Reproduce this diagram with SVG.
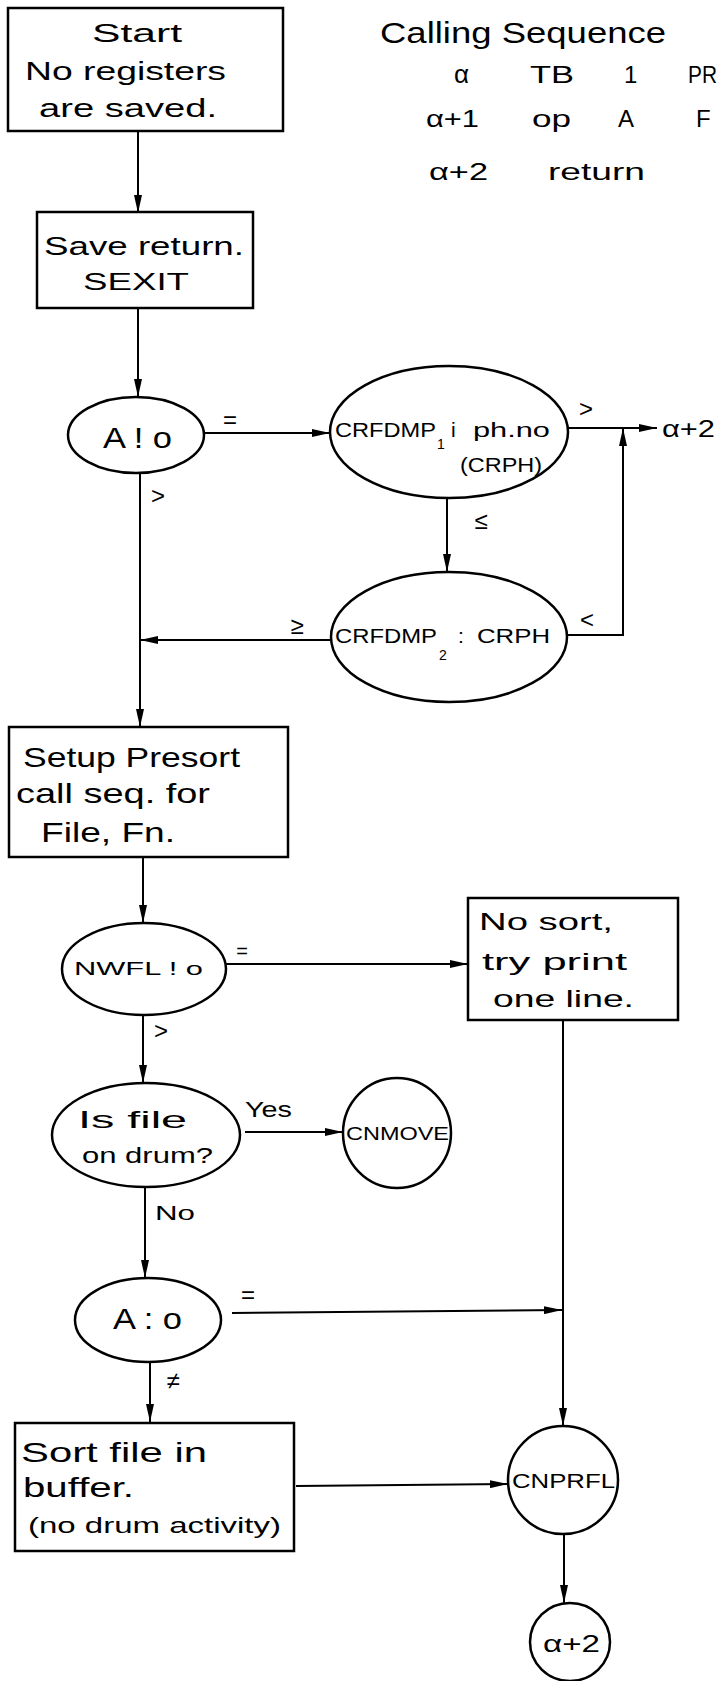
<svg xmlns="http://www.w3.org/2000/svg" width="719" height="1681" viewBox="0 0 719 1681">
<defs>
<marker id="ah" markerUnits="userSpaceOnUse" markerWidth="18" markerHeight="8" refX="18" refY="4" orient="auto">
<path d="M0,0 L18,4 L0,8 Z" fill="#000"/>
</marker>
<style>
.b{fill:none;stroke:#000;stroke-width:2.5}
.c{fill:none;stroke:#000;stroke-width:2;marker-end:url(#ah)}
text{font-family:"Liberation Sans",Arial,sans-serif;fill:#000}
.t26{font-size:26px}.t24{font-size:24px}.t22{font-size:22px}.t21{font-size:21px}.t19{font-size:19px}.t30{font-size:30px}.t28{font-size:28px}.t14{font-size:14px}
.l{font-size:24px;text-anchor:middle}
.s{font-size:20px;text-anchor:middle}
</style>
</defs>
<rect width="719" height="1681" fill="#fff"/>

<g id="calling-sequence">
<text class="t30" x="380" y="43" textLength="286" lengthAdjust="spacingAndGlyphs">Calling Sequence</text>
<text class="t26" x="454" y="83">α</text>
<text class="t24" x="530" y="83" textLength="44" lengthAdjust="spacingAndGlyphs">TB</text>
<text class="t24" x="624" y="83">1</text>
<text class="t24" x="688" y="83" textLength="29" lengthAdjust="spacingAndGlyphs">PR</text>
<text class="t24" x="426" y="127" textLength="53" lengthAdjust="spacingAndGlyphs">α+1</text>
<text class="t24" x="532" y="127" textLength="39" lengthAdjust="spacingAndGlyphs">op</text>
<text class="t24" x="618" y="127">A</text>
<text class="t24" x="696" y="127">F</text>
<text class="t24" x="429" y="180" textLength="59" lengthAdjust="spacingAndGlyphs">α+2</text>
<text class="t24" x="548" y="180" textLength="97" lengthAdjust="spacingAndGlyphs">return</text>
</g>

<g id="connectors">
<line class="c" x1="138" y1="132" x2="138" y2="213"/>
<line class="c" x1="138" y1="308" x2="138" y2="397"/>
<line class="c" x1="204" y1="433" x2="330" y2="433"/>
<line class="c" x1="568" y1="428" x2="657" y2="428"/>
<line class="c" x1="447" y1="498" x2="447" y2="572"/>
<polyline class="c" points="567,635 623,635 623,428"/>
<line class="c" x1="330" y1="640" x2="140" y2="640"/>
<line class="c" x1="140" y1="473" x2="140" y2="727"/>
<line class="c" x1="143" y1="858" x2="143" y2="923"/>
<line class="c" x1="226" y1="964" x2="468" y2="964"/>
<line class="c" x1="143" y1="1015" x2="143" y2="1083"/>
<line class="c" x1="245" y1="1132" x2="343" y2="1132"/>
<line class="c" x1="145" y1="1187" x2="145" y2="1278"/>
<line class="c" x1="232" y1="1313" x2="562" y2="1310"/>
<line class="c" x1="563" y1="1020" x2="563" y2="1426"/>
<line class="c" x1="150" y1="1362" x2="150" y2="1422"/>
<line class="c" x1="296" y1="1486" x2="508" y2="1484"/>
<line class="c" x1="564" y1="1535" x2="564" y2="1603"/>
<text class="l" x="230" y="428">=</text>
<text class="l" x="586" y="417">&gt;</text>
<text class="t24" x="662" y="437" textLength="53" lengthAdjust="spacingAndGlyphs">α+2</text>
<text class="l" x="481" y="529">≤</text>
<text class="l" x="587" y="628">&lt;</text>
<text class="l" x="297" y="634">≥</text>
<text class="l" x="158" y="504">&gt;</text>
<text class="s" x="242" y="958">=</text>
<text class="l" x="161" y="1039">&gt;</text>
<text class="t22" x="245" y="1117" textLength="47" lengthAdjust="spacingAndGlyphs">Yes</text>
<text class="t21" x="155" y="1220" textLength="40" lengthAdjust="spacingAndGlyphs">No</text>
<text class="l" x="248" y="1303">=</text>
<text class="l" x="173" y="1389">≠</text>
</g>

<g id="start">
<rect class="b" x="8" y="8" width="275" height="123"/>
<text class="t26" x="92" y="42" textLength="90" lengthAdjust="spacingAndGlyphs">Start</text>
<text class="t26" x="25" y="80" textLength="201" lengthAdjust="spacingAndGlyphs">No registers</text>
<text class="t26" x="39" y="117" textLength="178" lengthAdjust="spacingAndGlyphs">are saved.</text>
</g>

<g id="save-return">
<rect class="b" x="37" y="212" width="216" height="96"/>
<text class="t26" x="44" y="255" textLength="200" lengthAdjust="spacingAndGlyphs">Save return.</text>
<text class="t24" x="83" y="290" textLength="106" lengthAdjust="spacingAndGlyphs">SEXIT</text>
</g>

<g id="a-test-1">
<ellipse class="b" cx="136" cy="435" rx="68" ry="38"/>
<text class="t30" x="103" y="448" textLength="69" lengthAdjust="spacingAndGlyphs">A ! o</text>
</g>

<g id="crfdmp1">
<ellipse class="b" cx="449" cy="432" rx="119" ry="66"/>
<text class="t21" x="335" y="437" textLength="101" lengthAdjust="spacingAndGlyphs">CRFDMP</text>
<text class="t14" x="437" y="449">1</text>
<text class="t21" x="451" y="437">i</text>
<text class="t21" x="473" y="437" textLength="77" lengthAdjust="spacingAndGlyphs">ph.no</text>
<text class="t21" x="460" y="472" textLength="82" lengthAdjust="spacingAndGlyphs">(CRPH)</text>
</g>

<g id="crfdmp2">
<ellipse class="b" cx="449" cy="637" rx="118" ry="65"/>
<text class="t21" x="335" y="643" textLength="102" lengthAdjust="spacingAndGlyphs">CRFDMP</text>
<text class="t14" x="439" y="660">2</text>
<text class="t21" x="458" y="643">:</text>
<text class="t21" x="477" y="643" textLength="73" lengthAdjust="spacingAndGlyphs">CRPH</text>
</g>

<g id="setup-presort">
<rect class="b" x="9" y="727" width="279" height="130"/>
<text class="t28" x="23" y="767" textLength="217" lengthAdjust="spacingAndGlyphs">Setup Presort</text>
<text class="t28" x="16" y="803" textLength="194" lengthAdjust="spacingAndGlyphs">call seq. for</text>
<text class="t28" x="41" y="842" textLength="134" lengthAdjust="spacingAndGlyphs">File, Fn.</text>
</g>

<g id="nwfl-test">
<ellipse class="b" cx="144" cy="969" rx="82" ry="46"/>
<text class="t19" x="74" y="975" textLength="129" lengthAdjust="spacingAndGlyphs">NWFL ! o</text>
</g>

<g id="no-sort">
<rect class="b" x="468" y="898" width="210" height="122"/>
<text class="t24" x="479" y="930" textLength="134" lengthAdjust="spacingAndGlyphs">No sort,</text>
<text class="t24" x="482" y="970" textLength="145" lengthAdjust="spacingAndGlyphs">try print</text>
<text class="t24" x="493" y="1007" textLength="141" lengthAdjust="spacingAndGlyphs">one line.</text>
</g>

<g id="is-file-on-drum">
<ellipse class="b" cx="146" cy="1135" rx="94" ry="52"/>
<text class="t24" x="78" y="1128" textLength="109" lengthAdjust="spacingAndGlyphs">Is file</text>
<text class="t22" x="82" y="1163" textLength="131" lengthAdjust="spacingAndGlyphs">on drum?</text>
</g>

<g id="cnmove">
<ellipse class="b" cx="397" cy="1133" rx="54" ry="55"/>
<text class="t19" x="346" y="1140" textLength="103" lengthAdjust="spacingAndGlyphs">CNMOVE</text>
</g>

<g id="a-test-2">
<ellipse class="b" cx="148" cy="1320" rx="73" ry="42"/>
<text class="t30" x="113" y="1329" textLength="69" lengthAdjust="spacingAndGlyphs">A : o</text>
</g>

<g id="sort-file">
<rect class="b" x="15" y="1423" width="279" height="128"/>
<text class="t28" x="21" y="1462" textLength="186" lengthAdjust="spacingAndGlyphs">Sort file in</text>
<text class="t28" x="23" y="1497" textLength="111" lengthAdjust="spacingAndGlyphs">buffer.</text>
<text class="t22" x="28" y="1533" textLength="253" lengthAdjust="spacingAndGlyphs">(no drum activity)</text>
</g>

<g id="cnprfl">
<ellipse class="b" cx="563" cy="1480" rx="55" ry="54"/>
<text class="t21" x="512" y="1488" textLength="103" lengthAdjust="spacingAndGlyphs">CNPRFL</text>
</g>

<g id="alpha-plus-2">
<ellipse class="b" cx="570" cy="1642" rx="40" ry="39"/>
<text class="t24" x="543" y="1652" textLength="57" lengthAdjust="spacingAndGlyphs">α+2</text>
</g>
</svg>
